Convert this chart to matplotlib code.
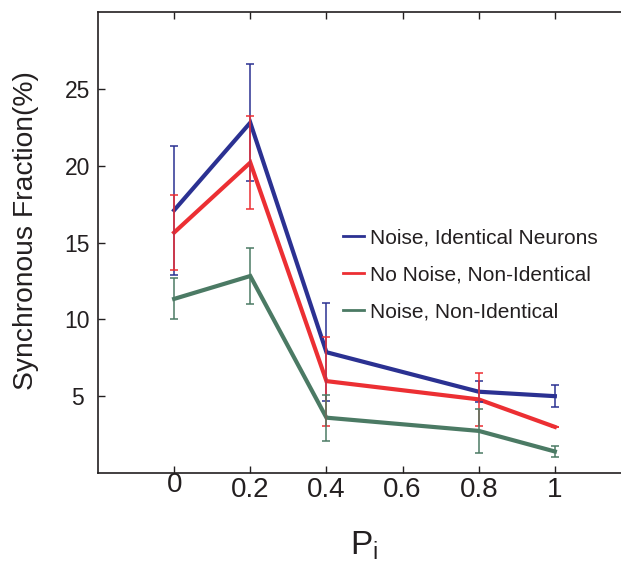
import matplotlib
matplotlib.use("Agg")
import matplotlib.pyplot as plt
import matplotlib.transforms as mtransforms
from matplotlib.lines import Line2D

plt.rcParams['font.family'] = ['Liberation Sans', 'DejaVu Sans']

p_values = [0, 0.2, 0.4, 0.8, 1.0]

noise_identical = [17.1, 22.8, 7.86, 5.29, 5.0]
noise_identical_err = [4.2, 3.8, 3.2, 0.7, 0.7]

nonoise_nonidentical = [15.65, 20.2, 5.98, 4.79, 3.0]
nonoise_nonidentical_err = [2.45, 3.0, 2.9, 1.7, 0.0]

noise_nonidentical = [11.33, 12.82, 3.6, 2.74, 1.4]
noise_nonidentical_err = [1.33, 1.8, 1.5, 1.45, 0.35]

labels = ["Noise, Identical Neurons", "No Noise, Non-Identical", "Noise, Non-Identical"]
colors = ["#2B3192", "#EC2F33", "#4B7A64"]

x_ticks = [0, 0.2, 0.4, 0.6, 0.8, 1]
x_ticklabels = ["0", "0.2", "0.4", "0.6", "0.8", "1"]
y_ticks = [5, 10, 15, 20, 25]

ink = '#231F20'

fig = plt.figure(figsize=(6.21, 5.61), dpi=100)
ax = fig.add_axes([98 / 621, 1 - 473 / 561, (631 - 98) / 621, (473 - 12) / 561])

series = [
    (noise_identical, noise_identical_err),
    (nonoise_nonidentical, nonoise_nonidentical_err),
    (noise_nonidentical, noise_nonidentical_err),
]

for (vals, errs), c in zip(series, colors):
    ax.plot(p_values, vals, color=c, lw=3.0, solid_joinstyle='miter', zorder=2)
for (vals, errs), c in zip(series, colors):
    ax.errorbar(p_values, vals, yerr=errs, fmt='none', ecolor=c,
                elinewidth=1.1, capsize=2.6, capthick=1.1, zorder=3)

ax.set_xlim(-0.2, 1.2)
ax.set_ylim(0, 30)
ax.set_xticks(x_ticks)
ax.set_xticklabels(x_ticklabels)
ax.set_yticks(y_ticks)
ax.tick_params(direction='in', length=5, width=1.0, top=True, right=True,
               colors=ink)
ax.tick_params(axis='x', labelsize=20, pad=3)
ax.tick_params(axis='y', labelsize=16.5, pad=15)
for lab in ax.get_yticklabels():
    lab.set_horizontalalignment('center')
# the "0" label sits slightly higher than the others
zero_lab = ax.get_xticklabels()[0]
zero_lab.set_transform(zero_lab.get_transform() +
                       mtransforms.ScaledTranslation(0, 5 / 100, fig.dpi_scale_trans))

for s in ax.spines.values():
    s.set_linewidth(1.2)
    s.set_color(ink)

ax.set_ylabel("Synchronous Fraction(%)", fontsize=20.3, color=ink)
ax.yaxis.set_label_coords(-0.11, 0.525)
ax.set_xlabel(r"P$_\mathregular{i}$", fontsize=24, color=ink)
ax.xaxis.set_label_coords(0.5, -0.123)

handles = [Line2D([], [], color=c, lw=2.0) for c in colors]
ax.legend(handles, labels, loc='upper left', bbox_to_anchor=(0.46, 0.53),
          frameon=False, fontsize=15, handlelength=1.0, handletextpad=0.3,
          labelspacing=0.85, borderpad=0, borderaxespad=0, labelcolor=ink)

fig.savefig("out.png", dpi=100)
